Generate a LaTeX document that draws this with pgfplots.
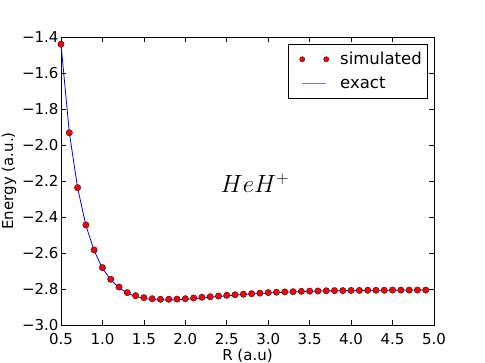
\documentclass[border=0pt]{standalone}
\usepackage{pgfplots}
\pgfplotsset{compat=1.18}
\usepackage{fontspec}
\setmainfont{DejaVu Sans}

\pgfplotstableread{
R E
0.5 -1.440
0.6 -1.932
0.7 -2.237
0.8 -2.444
0.9 -2.583
1.0 -2.681
1.1 -2.746
1.2 -2.789
1.3 -2.820
1.4 -2.837
1.5 -2.848
1.6 -2.854
1.7 -2.857
1.8 -2.857
1.9 -2.856
2.0 -2.854
2.1 -2.850
2.2 -2.846
2.3 -2.843
2.4 -2.839
2.5 -2.835
2.6 -2.832
2.7 -2.829
2.8 -2.826
2.9 -2.823
3.0 -2.820
3.1 -2.818
3.2 -2.816
3.3 -2.815
3.4 -2.813
3.5 -2.812
3.6 -2.811
3.7 -2.810
3.8 -2.809
3.9 -2.809
4.0 -2.808
4.1 -2.808
4.2 -2.807
4.3 -2.807
4.4 -2.807
4.5 -2.806
4.6 -2.806
4.7 -2.806
4.8 -2.806
4.9 -2.806
}\simdata

\pgfplotstableread{
R E
0.5 -1.440
0.6 -1.930
0.7 -2.237
0.8 -2.446
0.9 -2.587
1.0 -2.685
1.1 -2.750
1.2 -2.793
1.3 -2.823
1.4 -2.841
1.5 -2.852
1.6 -2.858
1.7 -2.861
1.8 -2.861
1.9 -2.860
2.0 -2.858
2.1 -2.854
2.2 -2.850
2.3 -2.846
2.4 -2.842
2.5 -2.838
2.6 -2.834
2.7 -2.831
2.8 -2.828
2.9 -2.825
3.0 -2.822
3.1 -2.820
3.2 -2.818
3.3 -2.816
3.4 -2.814
3.5 -2.813
3.6 -2.812
3.7 -2.811
3.8 -2.810
3.9 -2.809
4.0 -2.809
4.1 -2.808
4.2 -2.808
4.3 -2.807
4.4 -2.807
4.5 -2.807
4.6 -2.806
4.7 -2.806
4.8 -2.806
4.9 -2.806
}\exactdata

\begin{document}
\begin{tikzpicture}
  % fix the page to the reference frame (axis box at 61..434 x 37..325 px)
  \useasboundingbox (-61pt,-38pt) rectangle (424pt,325pt);
  \begin{axis}[
    at={(0,0)}, anchor=south west,
    scale only axis,
    width=373pt, height=288pt,
    xmin=0.5, xmax=5.0,
    ymin=-3.0, ymax=-1.4,
    xtick={0.5,1.0,...,5.0},
    xticklabels={0.5,1.0,1.5,2.0,2.5,3.0,3.5,4.0,4.5,5.0},
    ytick={-3.0,-2.8,-2.6,-2.4,-2.2,-2.0,-1.8,-1.6,-1.4},
    yticklabels={−3.0,−2.8,−2.6,−2.4,−2.2,−2.0,−1.8,−1.6,−1.4},
    tick label style={font=\fontsize{15}{17}\selectfont},
    xticklabel style={yshift=-5pt},
    yticklabel style={xshift=1pt},
    tick align=inside,
    major tick length=5pt,
    tick style={black, line width=0.6pt},
    axis line style={black, line width=0.8pt},
    xlabel={R (a.u)},
    ylabel={Energy (a.u.)},
    label style={font=\fontsize{15}{17}\selectfont},
    xlabel style={yshift=3pt},
    ylabel style={yshift=-1pt},
    legend style={at={(0.984,0.976)}, anchor=north east,
                  font=\fontsize{16.5}{19}\selectfont,
                  draw=black, line width=0.6pt,
                  inner xsep=4pt, inner ysep=6pt,
                  row sep=7pt},
    legend cell align=left,
  ]
    \addplot[only marks, mark=*, mark size=3.2pt,
             mark options={fill=red, draw=black, line width=0.3pt},
             legend image code/.code={
               \path[draw=none, fill=none] (0pt,0pt) -- (46pt,0pt);
               \fill[red, draw=black, line width=0.3pt] (10pt,0pt) circle (2.6pt);
               \fill[red, draw=black, line width=0.3pt] (34pt,0pt) circle (2.6pt);
             }] table[x=R, y=E] {\simdata};
    \addlegendentry{simulated}
    \addplot[blue, line width=0.8pt, mark=none,
             legend image code/.code={
               \path[draw=none, fill=none] (0pt,0pt) -- (46pt,0pt);
               \draw[blue!55, line width=0.9pt] (10pt,0pt) -- (34pt,0pt);
             }] table[x=R, y=E] {\exactdata};
    \addlegendentry{exact}
    \node[font=\fontsize{24}{28}\selectfont] at (axis cs:2.84,-2.21) {$HeH^+$};
  \end{axis}
\end{tikzpicture}
\end{document}
